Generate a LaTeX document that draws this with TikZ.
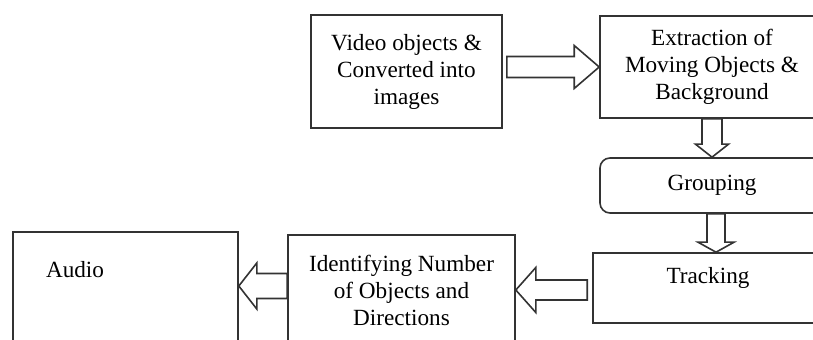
\documentclass[tikz,border=0pt]{standalone}
\usepackage{fontspec}
\setmainfont{Liberation Serif}
\usetikzlibrary{calc}

% hollow block arrows: from, to, shaft half width, head half width, head length
\newcommand{\harrow}[5]{%
	\draw[fatarrow] let \p1=(#1), \p2=(#2), \n1={ifthenelse(\x2>\x1,1,-1)} in
		(\x1,{\y1+#3}) -- ({\x2-\n1*#5},{\y1+#3}) -- ({\x2-\n1*#5},{\y1+#4}) -- (\x2,\y1)
		-- ({\x2-\n1*#5},{\y1-#4}) -- ({\x2-\n1*#5},{\y1-#3}) -- (\x1,{\y1-#3}) -- cycle;}
\newcommand{\varrow}[5]{%
	\draw[fatarrow] let \p1=(#1), \p2=(#2), \n1={ifthenelse(\y2>\y1,1,-1)} in
		({\x1+#3},\y1) -- ({\x1+#3},{\y2-\n1*#5}) -- ({\x1+#4},{\y2-\n1*#5}) -- (\x1,\y2)
		-- ({\x1-#4},{\y2-\n1*#5}) -- ({\x1-#3},{\y2-\n1*#5}) -- ({\x1-#3},\y1) -- cycle;}

\begin{document}
\begin{tikzpicture}[x=0.5pt, y=-0.5pt,
	box/.style={rectangle, draw=black!80, line width=0.8pt, align=center, inner sep=0pt,
		font=\fontsize{11.6}{13.5}\selectfont},
	fatarrow/.style={draw=black!80, line width=0.8pt, fill=white, line join=miter}]
	\clip (0, 0) rectangle (813, 340);
	
	\node[box, minimum width=95.5pt, minimum height=56.5pt] (video) at (406.5, 71.5) {Video objects \&\\Converted into\\images};
	\node[box, minimum width=112pt, minimum height=51pt] (extract) at (712, 67) {Extraction of\\Moving Objects \&\\Background};
	\node[box, rounded corners=5pt, minimum width=112pt, minimum height=27.5pt] (group) at (712, 185.5) {Grouping};
	\node[box, minimum width=115pt, minimum height=35pt, label={[font=\fontsize{11.6}{13.5}\selectfont, yshift=5pt]center:Tracking}] (track) at (708, 288) {};
	\node[box, minimum width=113.5pt, minimum height=55pt] (ident) at (401.5, 290) {Identifying Number\\of Objects and\\Directions};
	\node[box, minimum width=112.5pt, minimum height=64pt, label={[font=\fontsize{11.6}{13.5}\selectfont, xshift=-25.25pt, yshift=13pt]center:Audio}] (audio) at (125.5, 296) {};
	
	\harrow{$(video.east |- extract.west)+(4,0)$}{extract.west}{5.25pt}{10.75pt}{12.5pt}
	\varrow{extract.south}{group.north}{5pt}{8.25pt}{6.5pt}
	\varrow{$(group.south)+(4,0)$}{$(track.north)+(4,0)$}{4.5pt}{9pt}{5pt}
	\harrow{$(track.west)+(-5,2)$}{ident.east}{5pt}{11.25pt}{10pt}
	\harrow{$(ident.west)+(0,-4)$}{audio.east}{6.25pt}{11.5pt}{9pt}
\end{tikzpicture}
\end{document}
